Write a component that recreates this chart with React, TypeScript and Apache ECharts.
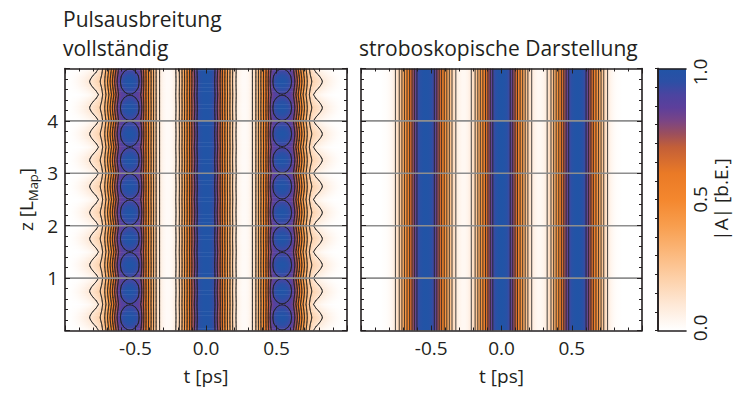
import React, { useEffect, useRef } from 'react';
import * as echarts from 'echarts';

// Sample positions of the intensity maps: t in ps, z in units of L_Map
const tGrid: number[] = Array.from({ length: 101 }, (_, i) => Number((-1 + 0.02 * i).toFixed(2)));
const zGrid: number[] = Array.from({ length: 201 }, (_, j) => Number((0.025 * j).toFixed(3)));

// |A|(t) of the full propagation half-way between two map nodes (z = n/2 + 1/4)
const ampFullMid: number[] = [
  0, 0.002, 0.005, 0.012, 0.022, 0.035, 0.05, 0.065, 0.085, 0.105,
  0.13, 0.155, 0.18, 0.22, 0.29, 0.39, 0.5, 0.625, 0.75, 0.85,
  0.925, 0.965, 0.99, 1.0, 0.99, 0.965, 0.925, 0.83, 0.69, 0.57,
  0.46, 0.35, 0.23, 0.135, 0.07, 0.035, 0.02, 0.02, 0.035, 0.075,
  0.145, 0.24, 0.355, 0.465, 0.575, 0.7, 0.8, 0.91, 0.97, 0.995,
  1.0,
  0.995, 0.97, 0.91, 0.8, 0.7, 0.575, 0.465, 0.355, 0.24, 0.145,
  0.075, 0.035, 0.02, 0.02, 0.035, 0.07, 0.135, 0.23, 0.35, 0.46,
  0.57, 0.69, 0.83, 0.925, 0.965, 0.99, 1.0, 0.99, 0.965, 0.925,
  0.85, 0.75, 0.625, 0.5, 0.39, 0.29, 0.22, 0.18, 0.155, 0.13,
  0.105, 0.085, 0.065, 0.05, 0.035, 0.022, 0.012, 0.005, 0.002, 0,
];

// |A|(t) of the full propagation at the map nodes (z = n/2)
const ampFullNode: number[] = [
  0, 0, 0, 0, 0, 0.003, 0.006, 0.012, 0.02, 0.032,
  0.048, 0.07, 0.105, 0.17, 0.255, 0.34, 0.445, 0.56, 0.685, 0.8,
  0.85, 0.875, 0.89, 0.895, 0.89, 0.875, 0.85, 0.79, 0.68, 0.565,
  0.455, 0.345, 0.23, 0.135, 0.07, 0.035, 0.021, 0.023, 0.04, 0.08,
  0.15, 0.245, 0.36, 0.47, 0.58, 0.71, 0.815, 0.92, 0.975, 0.995,
  1.0,
  0.995, 0.975, 0.92, 0.815, 0.71, 0.58, 0.47, 0.36, 0.245, 0.15,
  0.08, 0.04, 0.023, 0.021, 0.035, 0.07, 0.135, 0.23, 0.345, 0.455,
  0.565, 0.68, 0.79, 0.85, 0.875, 0.89, 0.895, 0.89, 0.875, 0.85,
  0.8, 0.685, 0.56, 0.445, 0.34, 0.255, 0.17, 0.105, 0.07, 0.048,
  0.032, 0.02, 0.012, 0.006, 0.003, 0, 0, 0, 0, 0,
];

// |A|(t) sampled once per map period (stroboscopic view)
const ampStrobe: number[] = [
  0, 0, 0, 0, 0, 0, 0, 0, 0.004, 0.01,
  0.022, 0.045, 0.085, 0.145, 0.235, 0.35, 0.46, 0.565, 0.68, 0.8,
  0.91, 0.965, 0.99, 1.0, 0.99, 0.965, 0.91, 0.8, 0.68, 0.565,
  0.46, 0.35, 0.235, 0.145, 0.085, 0.049, 0.032, 0.032, 0.049, 0.085,
  0.145, 0.235, 0.35, 0.46, 0.565, 0.68, 0.8, 0.91, 0.965, 0.99,
  1.0,
  0.99, 0.965, 0.91, 0.8, 0.68, 0.565, 0.46, 0.35, 0.235, 0.145,
  0.085, 0.049, 0.032, 0.032, 0.049, 0.085, 0.145, 0.235, 0.35, 0.46,
  0.565, 0.68, 0.8, 0.91, 0.965, 0.99, 1.0, 0.99, 0.965, 0.91,
  0.8, 0.68, 0.565, 0.46, 0.35, 0.235, 0.145, 0.085, 0.045, 0.022,
  0.01, 0.004, 0, 0, 0, 0, 0, 0, 0, 0,
];

// breathing weight over one half map period (node -> mid -> node), step 0.025 L_Map
const breathing: number[] = [0, 0.12, 0.24, 0.36, 0.48, 0.6, 0.71, 0.81, 0.9, 0.97, 1, 0.97, 0.9, 0.81, 0.71, 0.6, 0.48, 0.36, 0.24, 0.12];

const contourLevels: number[] = [0.1, 0.2, 0.3, 0.4, 0.5, 0.6, 0.7, 0.8, 0.9];
const zGridLines: number[] = [1, 2, 3, 4];

// colour scale of |A|
const colorStopValues: number[] = [0, 0.1, 0.2, 0.3, 0.4, 0.5, 0.6, 0.7, 0.75, 0.8, 0.85, 0.9, 0.95, 1];
const colorStopHex: string[] = ['#ffffff', '#fee8d6', '#fdd0a8', '#fbb77a', '#f89e4e', '#f4872e', '#ea7a26', '#c35f38', '#9c4f5c', '#7a4585', '#5d3f9b', '#4b44a0', '#2c4fa5', '#2154a6'];

const FONT = 'Open Sans';
const INK = '#231f20';
const T_MIN = -1;
const T_MAX = 1;
const Z_MIN = 0;
const Z_MAX = 5;
const HALF_Z = 0.0125;

function hexRgb(h: string): number[] {
  const n = parseInt(h.slice(1), 16);
  return [(n >> 16) & 255, (n >> 8) & 255, n & 255];
}

function colorOf(v: number): string {
  const x = Math.min(1, Math.max(0, v));
  let k = 0;
  while (k < colorStopValues.length - 2 && x > colorStopValues[k + 1]) k++;
  const f = (x - colorStopValues[k]) / (colorStopValues[k + 1] - colorStopValues[k]);
  const a = hexRgb(colorStopHex[k]);
  const b = hexRgb(colorStopHex[k + 1]);
  const c = a.map((ai, m) => Math.round(ai + f * (b[m] - ai)));
  return `rgb(${c[0]},${c[1]},${c[2]})`;
}

type Seg = [number, number, number, number];

// marching squares on field[j][i] over xs (i) and ys (j)
function contour(xs: number[], ys: number[], field: number[][], level: number): Seg[] {
  const out: Seg[] = [];
  for (let j = 0; j < ys.length - 1; j++) {
    for (let i = 0; i < xs.length - 1; i++) {
      const a = field[j][i];
      const b = field[j][i + 1];
      const c = field[j + 1][i + 1];
      const d = field[j + 1][i];
      const x0 = xs[i], x1 = xs[i + 1], y0 = ys[j], y1 = ys[j + 1];
      const cross = (v1: number, v2: number, px: number, py: number, qx: number, qy: number): number[] | null => {
        if ((v1 >= level) === (v2 >= level)) return null;
        const f = (level - v1) / (v2 - v1);
        return [px + f * (qx - px), py + f * (qy - py)];
      };
      const eB = cross(a, b, x0, y0, x1, y0);
      const eR = cross(b, c, x1, y0, x1, y1);
      const eT = cross(d, c, x0, y1, x1, y1);
      const eL = cross(a, d, x0, y0, x0, y1);
      const pts = [eB, eR, eT, eL].filter((p) => p) as number[][];
      if (pts.length === 2) {
        out.push([pts[0][0], pts[0][1], pts[1][0], pts[1][1]]);
      } else if (pts.length === 4) {
        const centerHigh = (a + b + c + d) / 4 >= level;
        if ((a >= level) === centerHigh) {
          out.push([eB![0], eB![1], eR![0], eR![1]], [eT![0], eT![1], eL![0], eL![1]]);
        } else {
          out.push([eL![0], eL![1], eB![0], eB![1]], [eR![0], eR![1], eT![0], eT![1]]);
        }
      }
    }
  }
  return out;
}

// full propagation field, rows along z
const fullField: number[][] = zGrid.map((_, j) =>
  tGrid.map((__, i) => ampFullNode[i] + breathing[j % breathing.length] * (ampFullMid[i] - ampFullNode[i]))
);
const strobeZ = [Z_MIN, Z_MAX];
const strobeField: number[][] = [ampStrobe, ampStrobe];

const fullContours = contourLevels.map((lv) => contour(tGrid, zGrid, fullField, lv));
const strobeContours = contourLevels.map((lv) => contour(tGrid, strobeZ, strobeField, lv));

// horizontal colour gradient through the samples of one row
function rowFill(row: number[]): any {
  return {
    type: 'linear', x: 0, y: 0, x2: 1, y2: 0, global: false,
    colorStops: tGrid.map((t, i) => ({ offset: (t - T_MIN) / (T_MAX - T_MIN), color: colorOf(row[i]) })),
  };
}
const fullRowFill = fullField.map(rowFill);
const strobeFill = rowFill(ampStrobe);

const colorbarFill = {
  type: 'linear', x: 0, y: 0, x2: 0, y2: 1, global: false,
  colorStops: colorStopValues.slice().reverse().map((v, k) => ({ offset: 1 - v, color: colorStopHex[colorStopHex.length - 1 - k] })),
};

const txt = { fontFamily: FONT, color: INK, fontSize: 19 };

function tAxis(gridIndex: number, position: string, labels: boolean): any {
  return {
    type: 'value', gridIndex, position, min: T_MIN, max: T_MAX, interval: 0.5, z: 10,
    axisLine: { show: true, onZero: false, lineStyle: { color: INK, width: 1.6 } },
    axisTick: { show: true, inside: true, length: 5, lineStyle: { color: INK, width: 1 } },
    minorTick: { show: true, splitNumber: 5, length: 3, lineStyle: { color: INK, width: 1 } },
    splitLine: { show: false },
    minorSplitLine: { show: false },
    axisLabel: {
      show: labels, margin: 8, ...txt,
      formatter: (v: number) => (Math.abs(v) >= 1 ? '' : v.toFixed(1)),
    },
    name: labels ? 't [ps]' : '', nameLocation: 'middle', nameGap: 36, nameMoveOverlap: false,
    nameTextStyle: { ...txt },
  };
}

function zAxis(gridIndex: number, position: string, labels: boolean): any {
  return {
    type: 'value', gridIndex, position, min: Z_MIN, max: Z_MAX, interval: 1, z: 10,
    axisLine: { show: true, onZero: false, lineStyle: { color: INK, width: 1.6 } },
    axisTick: { show: true, inside: true, length: 5, lineStyle: { color: INK, width: 1 } },
    minorTick: { show: true, splitNumber: 5, length: 3, lineStyle: { color: INK, width: 1 } },
    splitLine: { show: false },
    minorSplitLine: { show: false },
    axisLabel: {
      show: labels, margin: 7, ...txt,
      formatter: (v: number) => (v <= Z_MIN || v >= Z_MAX ? '' : String(v)),
    },
    name: labels ? '{b|z [L}{s|Map}{b|]}' : '', nameLocation: 'middle', nameGap: 26, nameMoveOverlap: false,
    nameTextStyle: {
      ...txt,
      rich: {
        b: { ...txt, lineHeight: 26 },
        s: { fontFamily: FONT, color: INK, fontSize: 13, lineHeight: 14, verticalAlign: 'bottom' },
      },
    },
  };
}

// full propagation map: one rect per z row, coloured along t
function fullMapSeries(): any {
  return {
    type: 'custom', xAxisIndex: 0, yAxisIndex: 0, z: 1, clip: true, silent: true,
    data: zGrid.map((z, j) => [0, z, j]),
    renderItem: (_p: any, api: any) => {
      const j = api.value(2) as number;
      const z = zGrid[j];
      const top = api.coord([T_MIN, Math.min(Z_MAX, z + HALF_Z)]);
      const bot = api.coord([T_MAX, Math.max(Z_MIN, z - HALF_Z)]);
      return {
        type: 'rect',
        shape: { x: top[0], y: top[1] - 0.3, width: bot[0] - top[0], height: bot[1] - top[1] + 0.6 },
        style: { fill: fullRowFill[j], stroke: null },
      };
    },
  };
}

// stroboscopic map: a single rect coloured along t
function strobeMapSeries(): any {
  return {
    type: 'custom', xAxisIndex: 2, yAxisIndex: 2, z: 1, clip: true, silent: true,
    data: [[0, (Z_MIN + Z_MAX) / 2]],
    renderItem: (_p: any, api: any) => {
      const top = api.coord([T_MIN, Z_MAX]);
      const bot = api.coord([T_MAX, Z_MIN]);
      return {
        type: 'rect',
        shape: { x: top[0], y: top[1], width: bot[0] - top[0], height: bot[1] - top[1] },
        style: { fill: strobeFill, stroke: null },
      };
    },
  };
}

function contourSeries(xi: number, sets: Seg[][]): any {
  return {
    type: 'custom', xAxisIndex: xi, yAxisIndex: xi, z: 4, clip: true, silent: true,
    data: contourLevels.map((lv, k) => [0, lv, k]),
    renderItem: (_p: any, api: any) => {
      const segs = sets[api.value(2) as number];
      let d = '';
      for (const s of segs) {
        const p = api.coord([s[0], s[1]]);
        const q = api.coord([s[2], s[3]]);
        d += `M${p[0].toFixed(2)} ${p[1].toFixed(2)}L${q[0].toFixed(2)} ${q[1].toFixed(2)}`;
      }
      return {
        type: 'path',
        shape: { pathData: d || 'M0 0' },
        style: { fill: 'none', stroke: '#222222', lineWidth: 0.85, lineCap: 'round' },
      };
    },
  };
}

function gridLineSeries(xi: number): any {
  return {
    type: 'custom', xAxisIndex: xi, yAxisIndex: xi, z: 5, clip: true, silent: true,
    data: zGridLines.map((z) => [0, z]),
    renderItem: (_p: any, api: any) => {
      const a = api.coord([T_MIN, api.value(1)]);
      const b = api.coord([T_MAX, api.value(1)]);
      return {
        type: 'line',
        shape: { x1: a[0], y1: a[1], x2: b[0], y2: b[1] },
        style: { stroke: '#8e8e8e', lineWidth: 1.6 },
      };
    },
  };
}

function buildOption(): any {
  const cbFrame = (gridIndex: number, position: string): any => ({
    type: 'value', gridIndex, position, min: 0, max: 1, z: 10,
    axisLine: { show: true, onZero: false, lineStyle: { color: INK, width: 1.6 } },
    axisTick: { show: false }, axisLabel: { show: false }, splitLine: { show: false },
  });
  return {
    animation: false,
    backgroundColor: '#ffffff',
    textStyle: { fontFamily: FONT },
    title: [
      {
        text: 'Pulsausbreitung\nvollständig', left: 63, top: 4, padding: 0,
        textStyle: { ...txt, fontSize: 21, fontWeight: 'normal', lineHeight: 29 },
      },
      {
        text: 'stroboskopische Darstellung', left: 359, top: 33, padding: 0,
        textStyle: { ...txt, fontSize: 21, fontWeight: 'normal', lineHeight: 29 },
      },
    ],
    grid: [
      { left: 65, top: 68.5, width: 282, height: 262, outerBoundsMode: 'none' },
      { left: 361, top: 68.5, width: 281, height: 262, outerBoundsMode: 'none' },
      { left: 658, top: 68.5, width: 28, height: 262, outerBoundsMode: 'none' },
    ],
    xAxis: [
      tAxis(0, 'bottom', true),
      tAxis(0, 'top', false),
      tAxis(1, 'bottom', true),
      tAxis(1, 'top', false),
      cbFrame(2, 'bottom'),
      cbFrame(2, 'top'),
    ],
    yAxis: [
      zAxis(0, 'left', true),
      zAxis(0, 'right', false),
      zAxis(1, 'left', false),
      zAxis(1, 'right', false),
      cbFrame(2, 'left'),
      {
        type: 'value', gridIndex: 2, position: 'right', min: 0, max: 1, interval: 0.5, z: 10,
        axisLine: { show: true, lineStyle: { color: INK, width: 1.6 } },
        axisTick: { show: true, inside: true, length: 3, lineStyle: { color: INK, width: 1 } },
        minorTick: { show: true, splitNumber: 7, length: 3, lineStyle: { color: INK, width: 1 } },
        splitLine: { show: false },
        axisLabel: {
          show: true, rotate: 90, margin: 4, lineHeight: 20, ...txt,
          formatter: (v: number) => (v >= 1 ? '{hi|1.0}' : v <= 0 ? '{lo|0.0}' : v.toFixed(1)),
          rich: {
            hi: { ...txt, lineHeight: 20, padding: [0, 7, 0, 0] },
            lo: { ...txt, lineHeight: 20, padding: [0, 0, 0, 5] },
          },
        },
        name: '|A| [b.E.]', nameLocation: 'middle', nameGap: 23, nameMoveOverlap: false,
        nameTextStyle: { ...txt, lineHeight: 24 },
      },
    ],
    series: [
      fullMapSeries(),
      strobeMapSeries(),
      contourSeries(0, fullContours),
      contourSeries(2, strobeContours),
      gridLineSeries(0),
      gridLineSeries(2),
      {
        type: 'custom', xAxisIndex: 4, yAxisIndex: 4, z: 1, clip: true, silent: true,
        data: [[0.5, 0.5]],
        renderItem: (_p: any, api: any) => {
          const a = api.coord([0, 1]);
          const b = api.coord([1, 0]);
          return {
            type: 'rect',
            shape: { x: a[0], y: a[1], width: b[0] - a[0], height: b[1] - a[1] },
            style: { fill: colorbarFill },
          };
        },
      },
    ],
  };
}

export default function App() {
  const ref = useRef<HTMLDivElement>(null);
  useEffect(() => {
    document.body.style.margin = '0';
    const chart = echarts.init(ref.current!, undefined, { renderer: 'svg' });
    chart.setOption(buildOption());
    return () => chart.dispose();
  }, []);
  return <div ref={ref} style={{ position: 'absolute', left: 0, top: 0, width: 736, height: 396 }} />;
}
